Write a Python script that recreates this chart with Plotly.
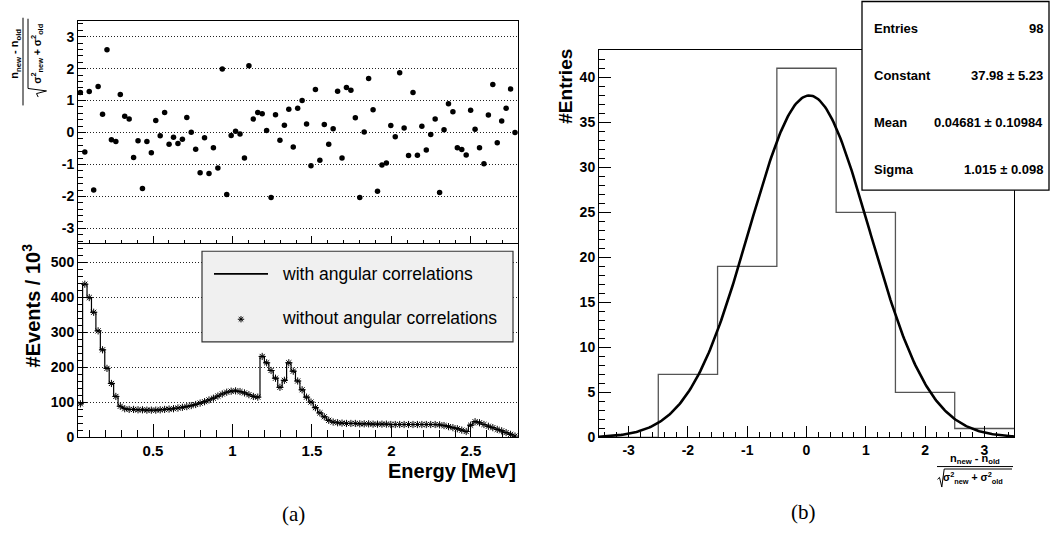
import numpy as np
import plotly.graph_objects as go

W, H = 1050, 545

# ---------------- data ----------------
# energy binning of panel (a): 99 equal bins
energy_low, energy_high, n_energy_bins = 0.029, 2.791, 99

pull_values = [
    1.25, -0.61, 1.28, -1.80, 1.44, 0.57, 2.59, -0.23, -0.28, 1.19,
    0.51, 0.42, -0.78, -0.26, -1.75, -0.28, -0.63, 0.38, -0.10, 0.63,
    -0.37, -0.15, -0.34, -0.21, 0.47, 0.01, -0.52, -1.26, -0.16, -1.28,
    -0.48, -1.11, 1.99,
    -1.94, -0.09, 0.04, -0.05, -0.80, 2.09, 0.42, 0.63, 0.59, 0.06,
    -2.03, 0.56, -0.24, 0.23, 0.73, -0.45, 0.76, 1.00, 0.27, -1.04,
    1.35, -0.87, 0.25, -0.37, 0.12, 1.29, -0.80, 1.41, 1.32, 0.46,
    -2.03, 0.02, 1.69,
    0.71, -1.84, -1.02, -0.95, 0.22, -0.13, 1.87, 0.14, -0.72, 1.25,
    -0.71, 0.20, -0.55, -0.06, 0.42, -1.88, 0.09, 0.90, 0.65, -0.48,
    -0.53, -0.70, 0.70, 0.10, -0.48, -0.98, 0.55, 1.50, -0.32, 0.36,
    0.76, 1.36, 0.00,
]

# events / 10^3 per bin ("with angular correlations")
events_with = [
    96, 437, 399, 357, 304, 250, 197, 154, 117, 89,
    82, 80, 80, 79, 79, 78, 78, 78, 79, 80,
    81, 82, 84, 86, 88, 91, 94, 98, 102, 107,
    112, 118, 124, 129, 132, 133, 131, 127, 122, 117,
    115, 231, 213, 191, 169, 143, 163, 213, 189, 161,
    136, 115, 101, 85, 70, 59, 49, 44, 42, 41,
    40, 40, 40, 39, 39, 39, 38, 38, 38, 38,
    37, 37, 37, 37, 37, 37, 37, 37, 37, 37,
    37, 36, 34, 31, 28, 25, 21, 17, 35, 45,
    42, 37, 32, 28, 23, 19, 14, 9, 4,
]
# "without angular correlations" (indistinguishable at this scale)
events_without = list(events_with)

# panel (b): pull histogram
hist_edges = [-3.5, -2.5, -1.5, -0.5, 0.5, 1.5, 2.5, 3.5]
hist_counts = [0, 7, 19, 41, 25, 5, 1]
fit_constant, fit_mean, fit_sigma = 37.98, 0.04681, 1.015
stats_rows = [("Entries", "98"), ("Constant", "37.98 ± 5.23"),
              ("Mean", "0.04681 ± 0.10984"), ("Sigma", "1.015 ± 0.098")]

# tick labels
pull_ticks = [-3, -2, -1, 0, 1, 2, 3]
events_ticks = [0, 100, 200, 300, 400, 500]
energy_ticks = [0.5, 1, 1.5, 2, 2.5]
hist_x_ticks = [-3, -2, -1, 0, 1, 2, 3]
hist_y_ticks = [0, 5, 10, 15, 20, 25, 30, 35, 40]

# ---------------- helpers ----------------
def fx(px):
    return px / W

def fy(py):
    return 1 - py / H

bin_w = (energy_high - energy_low) / n_energy_bins
energy = energy_low + bin_w * (np.arange(n_energy_bins) + 0.5)

FONT = "Liberation Sans, Arial, Helvetica, sans-serif"
SERIF = "Liberation Serif, Times New Roman, serif"

fig = go.Figure()

fig.add_trace(go.Scatter(x=energy, y=pull_values, mode="markers",
                         marker=dict(color="black", size=5.5),
                         xaxis="x", yaxis="y", showlegend=False))
fig.add_trace(go.Scatter(x=energy, y=events_with, mode="lines",
                         line=dict(color="black", width=1.2, shape="hvh"),
                         xaxis="x2", yaxis="y2", showlegend=False))
fig.add_trace(go.Scatter(x=energy, y=events_without, mode="markers",
                         marker=dict(symbol="asterisk-open", size=6, color="black",
                                     line=dict(color="black", width=1)),
                         xaxis="x2", yaxis="y2", showlegend=False))
fig.add_trace(go.Scatter(x=hist_edges, y=hist_counts + [hist_counts[-1]], mode="lines",
                         line=dict(color="#555555", width=1.3, shape="hv"),
                         xaxis="x3", yaxis="y3", showlegend=False))
xf = np.linspace(hist_edges[0], hist_edges[-1], 300)
yf = fit_constant * np.exp(-0.5 * ((xf - fit_mean) / fit_sigma) ** 2)
fig.add_trace(go.Scatter(x=xf, y=yf, mode="lines",
                         line=dict(color="black", width=2.6),
                         xaxis="x3", yaxis="y3", showlegend=False))

def fmt(v):
    return ("%g" % v)

def axis(domain, rng, ticks, ticklen, mdtick, mlen, fontsize, showlabels=True,
         anchor=None, grid=False):
    d = dict(domain=domain, range=rng, tickmode="array", tickvals=ticks,
             ticktext=["<b>" + fmt(t) + "</b>" for t in ticks],
             ticks="inside", ticklen=ticklen, tickwidth=1, tickcolor="black",
             minor=dict(ticks="inside", ticklen=mlen, dtick=mdtick, tick0=0,
                        tickwidth=1, tickcolor="black", showgrid=False),
             showline=True, linecolor="black", linewidth=1, mirror=True,
             zeroline=False, showgrid=grid, showticklabels=showlabels,
             tickfont=dict(family=FONT, size=fontsize, color="black"),
             fixedrange=True)
    if grid:
        d.update(gridcolor="#222222", gridwidth=1, griddash="1px,2px")
    if anchor:
        d["anchor"] = anchor
    return d

xl = [fx(78), fx(518)]
xr_ = [fx(599), fx(1014)]
erange = [0.028, 2.796]

fig.update_layout(
    width=W, height=H, margin=dict(l=0, r=0, t=0, b=0),
    paper_bgcolor="white", plot_bgcolor="white",
    xaxis=axis(xl, erange, energy_ticks, 8, 0.1, 4, 15, showlabels=False, anchor="y"),
    yaxis=axis([fy(248), fy(21)], [-3.5, 3.5], pull_ticks, 8, 0.2, 5, 14, anchor="x", grid=True),
    xaxis2=axis(xl, erange, energy_ticks, 13, 0.1, 7, 15, anchor="y2"),
    yaxis2=axis([fy(444), fy(247.5)], [0, 552], events_ticks, 9, 20, 5, 14, anchor="x2", grid=True),
    xaxis3=axis(xr_, [-3.5, 3.5], hist_x_ticks, 11, 0.2, 5, 14, anchor="y3"),
    yaxis3=axis([fy(444), fy(51)], [0, 43], hist_y_ticks, 12, 1, 6, 14, anchor="x3"),
)

ann = []
def text(px, py, s, size, xanchor="center", yanchor="middle", angle=0, family=FONT, color="black"):
    ann.append(dict(x=fx(px), y=fy(py), xref="paper", yref="paper", text=s,
                    showarrow=False, xanchor=xanchor, yanchor=yanchor, textangle=angle,
                    font=dict(family=family, size=size, color=color)))

text(518, 478, "<b>Energy [MeV]</b>", 20, xanchor="right")
text(31, 310, "<b>#Events / 10<sup>3</sup></b>", 20, angle=-90)
text(566, 88, "<b>#Entries</b>", 19, angle=-90)
text(280, 278, "with angular correlations", 17.5, xanchor="left")
text(280, 323, "without angular correlations", 17.5, xanchor="left")
for i, (lab, val) in enumerate(stats_rows):
    yy = [29, 77, 124, 172][i]
    text(872, yy, "<b>" + lab + "</b>", 13, xanchor="left")
    text(1045, yy, "<b>" + val + "</b>", 13, xanchor="right")
text(293, 522, "(a)", 21, family=SERIF)
text(803, 520, "(b)", 21, family=SERIF)

num = "<b>n<sub>new</sub> - n<sub>old</sub></b>"
den = "<b>σ<sup>2</sup><sub>new</sub> + σ<sup>2</sup><sub>old</sub></b>"
text(975, 466, num, 11)
text(973, 485, den, 10.5)
text(15.5, 55, num, 11, angle=-90)
text(37.5, 55, den, 10.5, angle=-90)

shapes = []
def line(x0, y0, x1, y1, color="black", width=1):
    shapes.append(dict(type="line", xref="paper", yref="paper", x0=fx(x0), y0=fy(y0),
                       x1=fx(x1), y1=fy(y1), line=dict(color=color, width=width)))

def path(pts, color="black", width=1):
    s = "M " + " L ".join(f"{fx(a):.5f},{fy(b):.5f}" for a, b in pts)
    shapes.append(dict(type="path", xref="paper", yref="paper", path=s,
                       line=dict(color=color, width=width)))

shapes.append(dict(type="rect", xref="paper", yref="paper", x0=fx(202), x1=fx(513),
                   y0=fy(347), y1=fy(255), fillcolor="#f0f0f0",
                   line=dict(color="#333333", width=1.2)))
line(214, 278, 268, 278, width=1.6)
cx, cy, r = 241, 324, 3.2
path([(cx - r, cy), (cx + r, cy)])
path([(cx, cy - r), (cx, cy + r)])
path([(cx - r * 0.7, cy - r * 0.7), (cx + r * 0.7, cy + r * 0.7)])
path([(cx - r * 0.7, cy + r * 0.7), (cx + r * 0.7, cy - r * 0.7)])

shapes.append(dict(type="rect", xref="paper", yref="paper", x0=fx(862), x1=fx(1049),
                   y0=fy(193), y1=fy(1.5), fillcolor="white",
                   line=dict(color="black", width=1.3)))

line(937, 473.5, 1013, 473.5)
path([(937.5, 486.5), (939.5, 484.5), (941.8, 494.3), (944.2, 476), (1012, 476)])
line(23, 18, 23, 107)
path([(38.2, 98.5), (36.5, 95.0), (46.5, 92.3), (28, 89.8), (28, 19)])

fig.update_layout(annotations=ann, shapes=shapes)
fig.write_html("out.html")
